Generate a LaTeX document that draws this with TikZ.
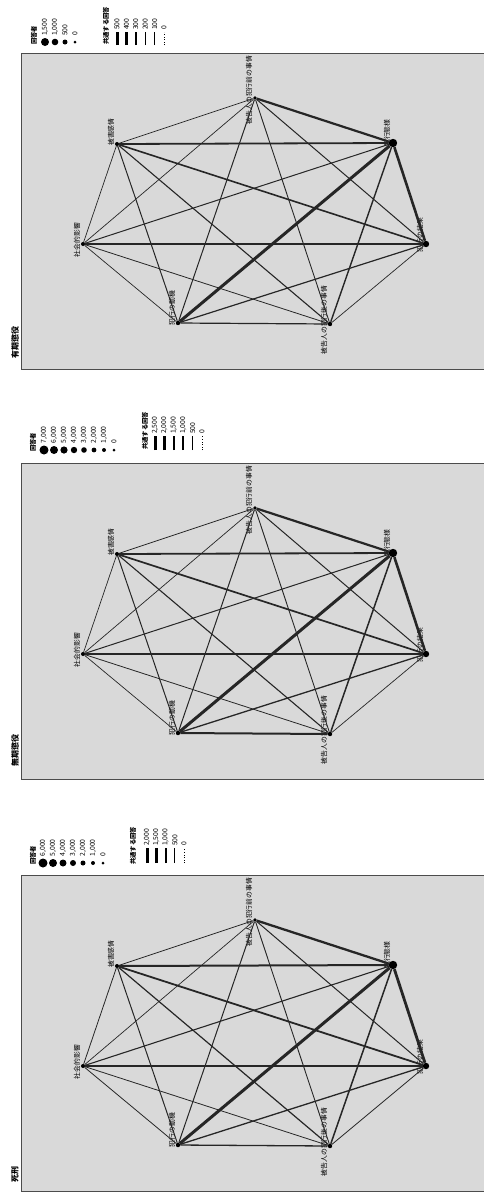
\documentclass[tikz,border=0pt]{standalone}
\usepackage{fontspec}
\setmainfont{Noto Sans CJK JP}
\usetikzlibrary{positioning}

% node name / x / y / radius / label / label shift
\newcommand\factorlist{A/255/45/1.8/被告人の犯行前の事情/-8,
  B/393/90/4.2/犯行態様/-10,
  C/426/191/3.2/犯行の結果/-9,
  D/330/271/2.2/被告人の犯行後の事情/-4,
  E/178/270/2.2/犯行の動機/-15,
  F/83/191/2/社会的影響/-4,
  G/117/91/2/被害感情/-12}

\tikzset{
  panel/.style={draw=black!70,line width=0.8pt,fill=black!15},
  dot/.style={circle,fill=black,inner sep=0pt},
  lbl/.style={rotate=90,anchor=south,inner sep=0.6pt,font=\fontsize{6.8}{7}\selectfont},
  ttl/.style={rotate=90,anchor=west,inner sep=0pt,font=\bfseries\fontsize{8}{9}\selectfont},
  leg/.style={rotate=90,anchor=west,inner sep=0pt,font=\fontsize{6.8}{7}\selectfont},
  legttl/.style={leg,font=\bfseries\fontsize{6.3}{7}\selectfont},
  tie/.style={draw=black!85},
}

\begin{document}
\begin{tikzpicture}[x=1pt,y=-1pt]
\useasboundingbox (0,0) rectangle (484,1192);

% ---- panel 1
\begin{scope}[shift={(0,53)},name prefix=yuki-]
\draw[panel] (21,0) rectangle (490,316);
\node[ttl] (title) at (15,306) {有期懲役};
\foreach \n/\x/\y/\r/\t/\d in \factorlist {
  \node[lbl] (\n-l) at (\x-2,\y+\d) {\t};
  \node[dot,minimum size=2*\r pt] (\n) at (\x,\y) {};
}
\foreach \a/\b/\w in {A/B/2.2,A/G/0.7,A/F/0.7,A/E/1.0,A/D/0.9,A/C/1.0,
  B/C/2.6,B/D/1.4,B/E/3.0,B/F/1.0,B/G/1.8,C/D/0.7,C/E/1.2,C/F/1.1,
  C/G/1.6,D/E/1.2,D/F/0.8,D/G/1.1,E/F/0.7,E/G/1.0,F/G/0.7}
  \draw[tie,line width=\w pt] (\a) -- (\b);
% legend
\node[legttl] (cnt) at (34,-8) {回答者};
\foreach \v/\r [count=\i] in {{1,500}/4,{1,000}/3.3,500/2.5,0/1.5} {
  \fill (35+10*\i,-11) circle (\r pt);
  \node[leg] (cnt-\i) at (35+10*\i,-17) {\v};
}
\node[legttl] (tie) at (106,-8) {共通する回答};
\foreach \v/\w [count=\i] in {500/3,400/2.4,300/1.8,200/1.3,100/0.8} {
  \draw[line width=\w pt] (107.6+9.4*\i,-8) -- ++(0,-13);
  \node[leg] (tie-\i) at (107.6+9.4*\i,-23) {\v};
}
\draw[dotted,line width=0.6pt] (164,-8) -- ++(0,-13);
\node[leg] (tie-0) at (164,-23) {0};
\end{scope}

% ---- panel 2
\begin{scope}[shift={(0,463)},name prefix=muki-]
\draw[panel] (21,0) rectangle (490,316);
\node[ttl] (title) at (15,304) {無期懲役};
\foreach \n/\x/\y/\r/\t/\d in \factorlist {
  \node[lbl] (\n-l) at (\x-2,\y+\d) {\t};
  \node[dot,minimum size=2*\r pt] (\n) at (\x,\y) {};
}
\foreach \a/\b/\w in {A/B/2.2,A/G/0.8,A/F/0.7,A/E/1.0,A/D/0.9,A/C/1.0,
  B/C/2.6,B/D/1.5,B/E/3.0,B/F/1.0,B/G/1.8,C/D/0.7,C/E/1.3,C/F/1.4,
  C/G/1.7,D/E/2.0,D/F/0.8,D/G/1.1,E/F/0.7,E/G/1.0,F/G/0.7}
  \draw[tie,line width=\w pt] (\a) -- (\b);
% legend
\node[legttl] (cnt) at (33,-11) {回答者};
\foreach \v/\r [count=\i] in {{7,000}/4.5,{6,000}/4,{5,000}/3.6,{4,000}/3.2,
  {3,000}/2.8,{2,000}/2.4,{1,000}/2,0/1.5} {
  \fill (34+10*\i,-13) circle (\r pt);
  \node[leg] (cnt-\i) at (34+10*\i,-19.5) {\v};
}
\node[legttl] (tie) at (145,-13) {共通する回答};
\foreach \v/\w [count=\i] in {{2,500}/3,{2,000}/2.5,{1,500}/2,{1,000}/1.5,500/1} {
  \draw[line width=\w pt] (145.6+9.4*\i,-13) -- ++(0,-14);
  \node[leg] (tie-\i) at (145.6+9.4*\i,-29) {\v};
}
\draw[dotted,line width=0.6pt] (202,-13) -- ++(0,-14);
\node[leg] (tie-0) at (202,-29) {0};
\end{scope}

% ---- panel 3
\begin{scope}[shift={(0,875)},name prefix=shikei-]
\draw[panel] (21,0) rectangle (490,316);
\node[ttl] (title) at (15,308) {死刑};
\foreach \n/\x/\y/\r/\t/\d in \factorlist {
  \node[lbl] (\n-l) at (\x-2,\y+\d) {\t};
  \node[dot,minimum size=2*\r pt] (\n) at (\x,\y) {};
}
\foreach \a/\b/\w in {A/B/2.3,A/G/0.8,A/F/0.7,A/E/1.0,A/D/0.9,A/C/1.0,
  B/C/2.8,B/D/1.5,B/E/3.0,B/F/1.1,B/G/2.0,C/D/0.8,C/E/1.3,C/F/1.3,
  C/G/1.8,D/E/1.3,D/F/0.8,D/G/1.2,E/F/0.8,E/G/1.0,F/G/0.8}
  \draw[tie,line width=\w pt] (\a) -- (\b);
% legend
\node[legttl] (cnt) at (33,-10) {回答者};
\foreach \v/\r [count=\i] in {{6,000}/4.5,{5,000}/4,{4,000}/3.5,{3,000}/3,
  {2,000}/2.5,{1,000}/2,0/1.5} {
  \fill (33+10*\i,-12) circle (\r pt);
  \node[leg] (cnt-\i) at (33+10*\i,-18.5) {\v};
}
\node[legttl] (tie) at (133,-10) {共通する回答};
\foreach \v/\w [count=\i] in {{2,000}/3,{1,500}/2.4,{1,000}/1.8,500/1.1} {
  \draw[line width=\w pt] (137.7+9.3*\i,-12) -- ++(0,-15);
  \node[leg] (tie-\i) at (137.7+9.3*\i,-29) {\v};
}
\draw[dotted,line width=0.6pt] (184,-12) -- ++(0,-15);
\node[leg] (tie-0) at (184,-29) {0};
\end{scope}
\end{tikzpicture}
\end{document}
